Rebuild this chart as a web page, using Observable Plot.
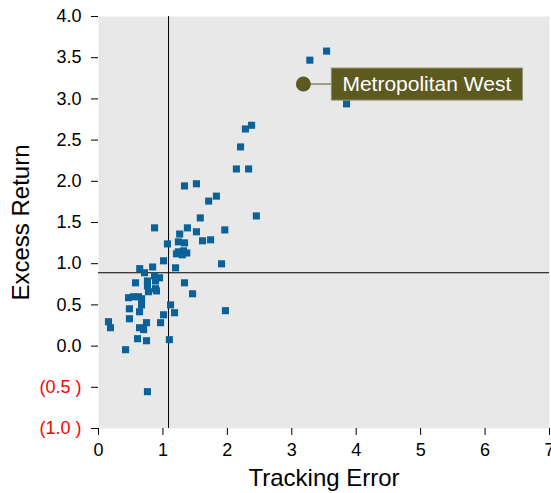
<!DOCTYPE html>
<html><head><meta charset="utf-8">
<script src="https://cdn.jsdelivr.net/npm/d3@7"></script>
<script src="https://cdn.jsdelivr.net/npm/@observablehq/plot@0.6"></script>
<style>
body{margin:0;background:#fff;}
#chart svg{font-family:Arial,"Liberation Sans",sans-serif;}
</style></head><body><div id="chart"></div>
<script>
const trackingError = [2.14,2.33,1.335,1.52,1.83,1.71,2.45,1.58,0.87,1.38,1.96,1.52,1.26,1.615,1.74,1.24,1.335,1.07,1.24,1.32,1.37,1.21,1.30,1.01,1.91,0.64,0.84,1.196,0.714,0.87,0.947,0.76,0.885,0.575,1.335,0.76,0.885,0.776,0.90,1.46,0.466,0.543,0.62,0.668,0.668,1.118,0.48,0.637,1.97,1.18,1.01,0.48,0.155,0.186,0.963,0.745,0.637,0.70,0.606,0.745,1.10,0.42,0.76,3.54,3.28,3.85,2.376,2.28,2.205];
const excessReturn = [2.15,2.15,1.944,1.97,1.82,1.76,1.58,1.556,1.435,1.435,1.41,1.387,1.36,1.278,1.29,1.265,1.253,1.24,1.144,1.156,1.13,1.12,1.108,1.035,0.999,0.94,0.96,0.95,0.89,0.853,0.829,0.79,0.79,0.768,0.768,0.73,0.696,0.66,0.67,0.635,0.587,0.599,0.599,0.575,0.50,0.50,0.453,0.417,0.43,0.405,0.38,0.332,0.296,0.223,0.284,0.284,0.223,0.20,0.09,0.065,0.078,-0.044,-0.553,3.58,3.47,2.94,2.68,2.635,2.417];
const highlightName = ["Metropolitan West"];
const highlightX = [3.18];
const highlightY = [3.18];
const medianTrackingError = [1.087];
const medianExcessReturn = [0.89];
const xTicks = [0,1,2,3,4,5,6,7];
const yTicks = [-1,-0.5,0,0.5,1,1.5,2,2.5,3,3.5,4];

const points = trackingError.map((x, i) => ({x, y: excessReturn[i]}));
const highlight = highlightName.map((name, i) => ({name, x: highlightX[i], y: highlightY[i]}));
const fmtY = d => d < 0 ? `(${Math.abs(d).toFixed(1)} )` : d.toFixed(1);

const chart = Plot.plot({
  width: 551,
  height: 493,
  marginLeft: 98,
  marginRight: 2,
  marginTop: 16,
  marginBottom: 65,
  style: {fontSize: "18px", color: "#000", background: "#fff"},
  x: {domain: [0, 7], axis: null},
  y: {domain: [-1, 4], axis: null},
  marks: [
    Plot.frame({fill: "#e8e8e8", stroke: null}),
    Plot.ruleX(medianTrackingError, {stroke: "#000", strokeWidth: 1}),
    Plot.ruleY(medianExcessReturn, {stroke: "#000", strokeWidth: 1}),
    Plot.dot(points, {x: "x", y: "y", symbol: "square", r: 4, fill: "#0b6298", stroke: null}),
    Plot.dot(highlight, {x: "x", y: "y", r: 7.5, fill: "#5d5a1f", stroke: null}),
    Plot.text(highlight, {x: "x", y: "y", text: "name", textAnchor: "start", dx: 39, fill: "#fff", fontSize: 21}),
    Plot.axisX({ticks: xTicks, tickFormat: d => String(d), tickSize: 7, tickPadding: 8, label: null, stroke: "#000", fill: "#000", line: true, fontSize: 18}),
    Plot.axisY({ticks: yTicks, tickFormat: fmtY, tickSize: 7, tickPadding: 10, label: null, stroke: "#000", fill: "#000", line: true, fontSize: 18}),
    Plot.text(["Tracking Error"], {frameAnchor: "bottom", textAnchor: "middle", dy: 57, fontSize: 24, fill: "#000"}),
    Plot.text(["Excess Return"], {frameAnchor: "left", textAnchor: "middle", rotate: -90, dx: -77, fontSize: 24, fill: "#000"})
  ]
});
document.getElementById("chart").appendChild(chart);

// negative tick labels in red
chart.querySelectorAll('text').forEach(t => {
  if (t.textContent.trim().startsWith("(")) t.setAttribute("fill", "#ff0000");
});

// label box + connector
const lbl = Array.from(chart.querySelectorAll("text")).find(t => t.textContent === highlightName[0]);
const dot = chart.querySelector("circle");
const lblG = lbl.parentNode;
const dotG = dot.parentNode;
const r = lbl.getBoundingClientRect();
const sr = chart.getBoundingClientRect();
const left = r.left - sr.left, right = r.right - sr.left;
const dr = dot.getBoundingClientRect();
const cx = (dr.left + dr.right) / 2 - sr.left;
const cy = (dr.top + dr.bottom) / 2 - sr.top;
const ns = "http://www.w3.org/2000/svg";
const rect = document.createElementNS(ns, "rect");
rect.setAttribute("x", left - 11);
rect.setAttribute("y", cy - 16);
rect.setAttribute("width", right - left + 22);
rect.setAttribute("height", 32);
rect.setAttribute("fill", "#5d5a1f");
rect.setAttribute("stroke", "#8e8c68");
rect.setAttribute("stroke-width", 1);
const line = document.createElementNS(ns, "line");
line.setAttribute("x1", cx); line.setAttribute("y1", cy);
line.setAttribute("x2", left - 11); line.setAttribute("y2", cy);
line.setAttribute("stroke", "#9e9c80");
line.setAttribute("stroke-width", 2);
dotG.parentNode.insertBefore(line, dotG);
lblG.parentNode.insertBefore(rect, lblG);
</script></body></html>
